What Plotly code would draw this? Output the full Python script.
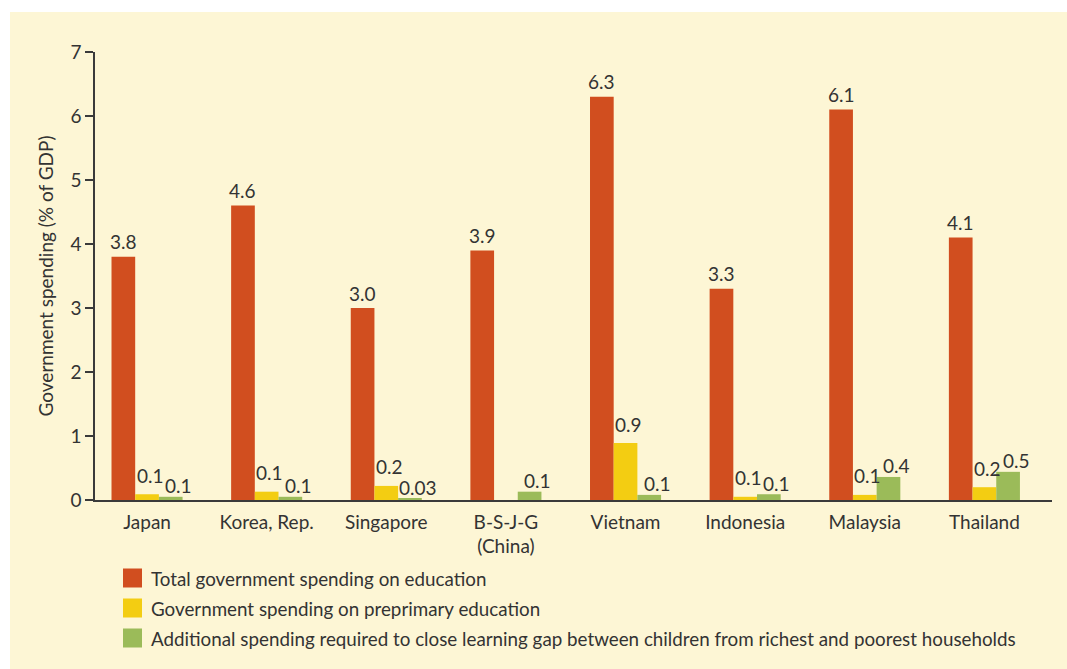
import plotly.graph_objects as go

# ---------------- data ----------------
categories = ["Japan", "Korea, Rep.", "Singapore", "B-S-J-G<br>(China)",
              "Vietnam", "Indonesia", "Malaysia", "Thailand"]

series_names = [
    "Total government spending on education",
    "Government spending on preprimary education",
    "Additional spending required to close learning gap between children from richest and poorest households",
]

total_spending = [3.8, 4.6, 3.0, 3.9, 6.3, 3.3, 6.1, 4.1]
preprimary_spending = [0.09, 0.13, 0.22, 0.0, 0.89, 0.05, 0.08, 0.2]
additional_spending = [0.05, 0.05, 0.03, 0.13, 0.08, 0.09, 0.36, 0.44]

total_labels = ["3.8", "4.6", "3.0", "3.9", "6.3", "3.3", "6.1", "4.1"]
preprimary_labels = ["0.1", "0.1", "0.2", "", "0.9", "0.1", "0.1", "0.2"]
additional_labels = ["0.1", "0.1", "0.03", "0.1", "0.1", "0.1", "0.4", "0.5"]

y_ticks = [0, 1, 2, 3, 4, 5, 6, 7]

# ---------------- styles ----------------
W, H = 1067, 669
ML, MR, MT, MB = 95, 15, 52, 169
PW, PH = W - ML - MR, H - MT - MB
FONT = "Lato"
FS = 19
TXT = "#333333"
AX = "#3a3a3a"
BG = "#FDF6D5"
colors = ["#D14E1F", "#F3CD12", "#9BBB59"]
BARGAP = 0.406
# label offsets (px) per series: horizontal nudge and vertical lift above bar top
label_dx = [0, 3, 8]
label_dy = [15, 19, 11]


def px_x(px):
    return (px - ML) / PW


def px_y(py):
    return (H - MB - py) / PH


n = len(categories)
left_off = 0.435
bar_px = PW / n * (1 - BARGAP) / 3

fig = go.Figure()
values = [total_spending, preprimary_spending, additional_spending]
labels = [total_labels, preprimary_labels, additional_labels]
for j, (name, vals, labs, col) in enumerate(zip(series_names, values, labels, colors)):
    fig.add_trace(go.Bar(
        x=categories, y=vals, name=name, marker=dict(color=col, line=dict(width=0)),
        showlegend=False, hoverinfo="x+y",
    ))
    for cat, v, lab in zip(categories, vals, labs):
        if not lab:
            continue
        fig.add_annotation(
            x=cat, y=v, xref="x", yref="y", text=lab, showarrow=False,
            xanchor="center", yanchor="middle",
            xshift=(j - 1) * bar_px + label_dx[j], yshift=label_dy[j],
            font=dict(family=FONT, size=FS, color=TXT),
        )

fig.update_layout(
    width=W, height=H,
    margin=dict(l=ML, r=MR, t=MT, b=MB, autoexpand=False),
    paper_bgcolor="white", plot_bgcolor="rgba(0,0,0,0)",
    barmode="group", bargap=BARGAP, bargroupgap=0,
    font=dict(family=FONT, size=FS, color=TXT),
    xaxis=dict(
        type="category", range=[-left_off, n - left_off],
        showline=True, linecolor=AX, linewidth=1.5,
        ticks="outside", ticklen=4, tickcolor="rgba(0,0,0,0)",
        tickfont=dict(family=FONT, size=FS, color=TXT),
        showgrid=False, zeroline=False, fixedrange=True,
    ),
    xaxis2=dict(
        overlaying="x", type="linear", range=[-left_off, n - left_off],
        tickvals=[k - left_off for k in range(n + 1)],
        showticklabels=False, ticks="outside", ticklen=8, tickwidth=1.5,
        tickcolor=AX, showline=False, showgrid=False, zeroline=False,
    ),
    yaxis=dict(
        range=[0, 7], tickvals=y_ticks,
        showline=True, linecolor=AX, linewidth=1.5,
        ticks="outside", ticklen=8, tickwidth=1.5, tickcolor=AX,
        tickfont=dict(family=FONT, size=FS, color=TXT),
        showgrid=False, zeroline=False,
        title=dict(text="Government spending (% of GDP)",
                   font=dict(family=FONT, size=FS, color=TXT), standoff=12),
    ),
)

# cream panel background
fig.add_shape(type="rect", xref="paper", yref="paper", layer="below",
              x0=px_x(10), x1=px_x(W + 20), y0=px_y(H + 20), y1=px_y(12),
              fillcolor=BG, line=dict(width=0))

# manual legend
row_y = [578, 608, 638]
for name, col, ry in zip(series_names, colors, row_y):
    fig.add_shape(type="rect", xref="paper", yref="paper",
                  x0=px_x(123), x1=px_x(142), y0=px_y(ry + 9.5), y1=px_y(ry - 9.5),
                  fillcolor=col, line=dict(width=0))
    fig.add_annotation(xref="paper", yref="paper", x=px_x(149), y=px_y(ry),
                       xanchor="left", yanchor="middle", text=name, showarrow=False,
                       font=dict(family=FONT, size=18.8, color=TXT))

fig.write_html("out.html", config={"displayModeBar": False},
               post_script="document.body.style.margin='0';")
